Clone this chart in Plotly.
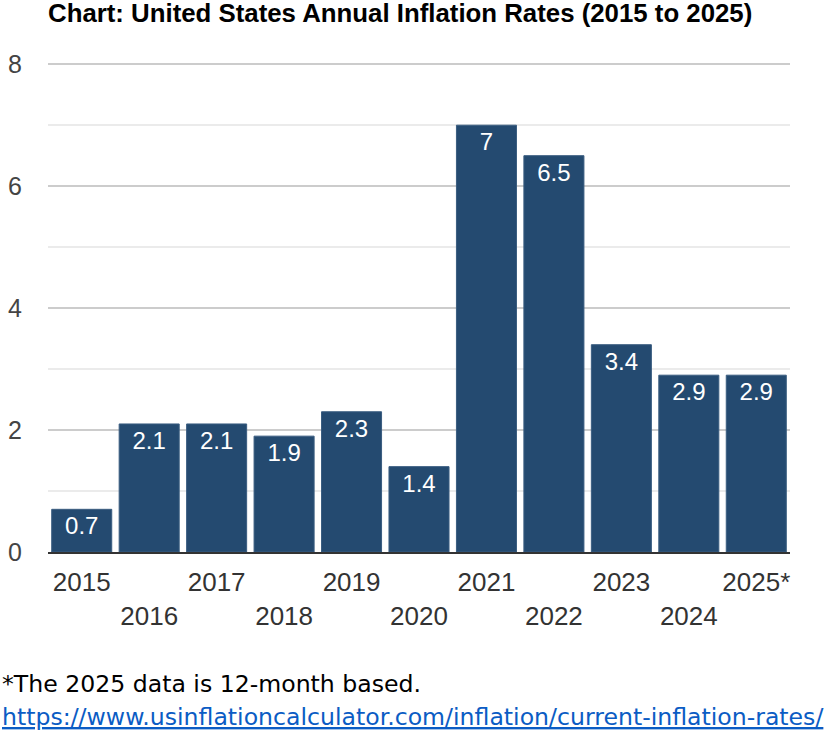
import plotly.graph_objects as go

years = ["2015", "2016", "2017", "2018", "2019", "2020", "2021", "2022", "2023", "2024", "2025*"]
rates = [0.7, 2.1, 2.1, 1.9, 2.3, 1.4, 7.0, 6.5, 3.4, 2.9, 2.9]
rate_labels = ["0.7", "2.1", "2.1", "1.9", "2.3", "1.4", "7", "6.5", "3.4", "2.9", "2.9"]
y_ticks = [0, 2, 4, 6, 8]

title_text = "Chart: United States Annual Inflation Rates (2015 to 2025)"
note_text = "*The 2025 data is 12-month based."
source_url = "https://www.usinflationcalculator.com/inflation/current-inflation-rates/"

# staggered tick labels: every second label on a second row
tick_text = [y if i % 2 == 0 else "<br>" + y for i, y in enumerate(years)]

fig = go.Figure(
    go.Bar(
        x=years,
        y=rates,
        text=rate_labels,
        texttemplate="%{text}",
        textposition="inside",
        insidetextanchor="end",
        textangle=0,
        textfont=dict(family="Liberation Sans, Arial, sans-serif", size=24, color="white"),
        marker=dict(color="#244a70", line=dict(color="#3a5d80", width=1)),
        hoverinfo="skip",
    )
)

fig.update_layout(
    width=835,
    height=737,
    margin=dict(l=48, r=45, t=63, b=185),
    paper_bgcolor="white",
    plot_bgcolor="white",
    bargap=0.11,
    showlegend=False,
    font=dict(family="Liberation Sans, Arial, sans-serif", color="#333333"),
    title=dict(
        text="<b>" + title_text + "</b>",
        x=48 / 835,
        xanchor="left",
        y=1 - 13 / 737,
        yanchor="middle",
        font=dict(family="Liberation Sans, Arial, sans-serif", size=25.8, color="#000000"),
    ),
    xaxis=dict(
        tickmode="array",
        tickvals=years,
        ticktext=tick_text,
        tickfont=dict(size=26, color="#333333"),
        showline=True,
        linecolor="#333333",
        linewidth=2,
        showgrid=False,
        ticks="",
        ticklabelstandoff=6,
        automargin=False,
    ),
    yaxis=dict(
        range=[0, 8.02],
        tickmode="array",
        tickvals=y_ticks,
        tickfont=dict(size=25, color="#444444"),
        showgrid=True,
        gridcolor="#cccccc",
        gridwidth=2,
        zeroline=False,
        ticks="",
        ticklabelstandoff=25,
        automargin=False,
        minor=dict(dtick=1, showgrid=True, gridcolor="#ebebeb", gridwidth=2),
    ),
    annotations=[
        dict(
            text=note_text,
            xref="paper", yref="paper",
            x=-48 / 742, y=(552 - 684) / 489,
            xanchor="left", yanchor="middle",
            showarrow=False,
            font=dict(family="DejaVu Sans, Verdana, sans-serif", size=23.6, color="#000000"),
        ),
        dict(
            text="<u>" + source_url + "</u>",
            xref="paper", yref="paper",
            x=-48 / 742, y=(552 - 717) / 489,
            xanchor="left", yanchor="middle",
            showarrow=False,
            font=dict(family="DejaVu Sans, Verdana, sans-serif", size=23.6, color="#0b5cc4"),
        ),
    ],
)

fig.write_html(
    "out.html",
    config={"displayModeBar": False},
    post_script="document.body.style.margin='0';",
)
